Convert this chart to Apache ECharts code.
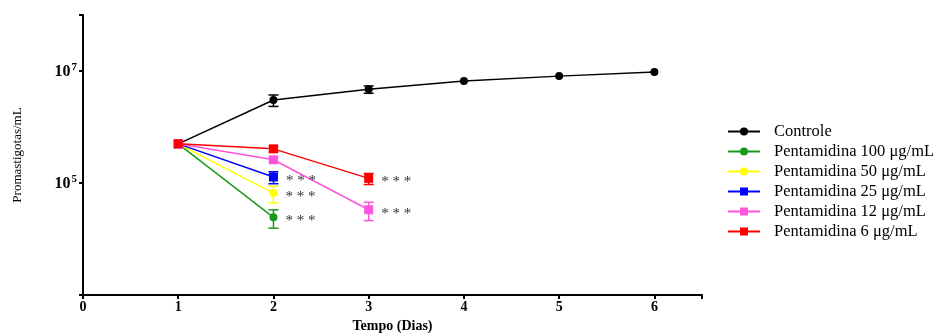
<!DOCTYPE html>
<html><head><meta charset="utf-8">
<script src="https://cdn.jsdelivr.net/npm/echarts@6/dist/echarts.min.js"></script>
<style>html,body{margin:0;padding:0;background:#fff}#c{width:945px;height:333px}</style>
</head><body><div id="c"></div>
<script>
const days = [1, 2, 3, 4, 5, 6];
const seriesNames = ['Controle','Pentamidina 100 μg/mL','Pentamidina 50 μg/mL','Pentamidina 25 μg/mL','Pentamidina 12 μg/mL','Pentamidina 6 μg/mL'];
const controle = [5.0e5, 3.03e6, 4.7e6, 6.6e6, 8.1e6, 9.6e6];
const controleSD = [0, 0.7e6, 0.7e6, 0, 0, 0];
const p100 = [5.0e5, 2.44e4];
const p100SD = [0, 0.88e4];
const p50 = [5.0e5, 6.6e4];
const p50SD = [0, 2.2e4];
const p25 = [5.0e5, 1.28e5];
const p25SD = [0, 0.31e5];
const p12 = [5.0e5, 2.6e5, 3.33e4];
const p12SD = [0, 0.2e5, 1.2e4];
const p6 = [5.0e5, 4.07e5, 1.21e5];
const p6SD = [0, 0.5e5, 0.27e5];
const yTickExponents = [5, 7];
const sigMark = '* * *';

const colors = ['#000000','#1a9a1a','#ffff00','#0000ff','#ff55dd','#ff0000'];
const symbols = ['circle','circle','circle','rect','rect','rect'];
const vals = [controle,p100,p50,p25,p12,p6];
const sds = [controleSD,p100SD,p50SD,p25SD,p12SD,p6SD];
const sig = [false,true,true,true,true,true];
const serif = '"Liberation Serif","DejaVu Serif",serif';

const series = [];
vals.forEach((v,i)=>{
  series.push({
    type:'custom', name: seriesNames[i] + ' (SD)', silent:true, z:3,
    data: v.map((y,k)=>[days[k], y - sds[i][k], y + sds[i][k]]).filter((d,k)=>sds[i][k]>0),
    renderItem:(params, api)=>{
      const x = api.value(0);
      const lo = api.coord([x, api.value(1)]);
      const hi = api.coord([x, api.value(2)]);
      const w = 5;
      const st = {stroke: colors[i], lineWidth: 1.5};
      return {type:'group', children:[
        {type:'line', shape:{x1:lo[0],y1:lo[1],x2:hi[0],y2:hi[1]}, style:st},
        {type:'line', shape:{x1:lo[0]-w,y1:lo[1],x2:lo[0]+w,y2:lo[1]}, style:st},
        {type:'line', shape:{x1:hi[0]-w,y1:hi[1],x2:hi[0]+w,y2:hi[1]}, style:st}
      ]};
    }
  });
});
vals.forEach((v,i)=>{
  series.push({
    type:'line', name: seriesNames[i], z:4,
    data: v.map((y,k)=>{
      const d = {value:[days[k], y]};
      if (sig[i] && k === v.length-1) {
        d.label = {show:true, position:'right', distance:8, formatter: sigMark, color:'#333', fontSize:15, fontFamily:serif, offset:[0,4]};
      }
      return d;
    }),
    symbol: symbols[i], symbolSize: symbols[i]==='rect' ? 9 : 8,
    itemStyle:{color: colors[i]},
    lineStyle:{color: colors[i], width:1.5},
    animation:false
  });
});

const chart = echarts.init(document.getElementById('c'), null, {renderer:'canvas'});
chart.setOption({
  animation:false,
  backgroundColor:'#fff',
  grid:{left:83, right:243, top:15, bottom:38, containLabel:false, outerBoundsMode:'none'},
  legend:{
    orient:'vertical', left:722, top:118, itemWidth:32, itemHeight:10, itemGap:3,
    data: seriesNames,
    textStyle:{fontFamily:serif, fontSize:16.5, color:'#000', padding:[0,0,0,9]}
  },
  xAxis:{
    type:'value', min:0, max:6.5, interval:1,
    name:'Tempo (Dias)', nameLocation:'middle', nameGap:24,
    nameTextStyle:{fontFamily:serif, fontSize:14, fontWeight:'bold', color:'#000'},
    axisLine:{lineStyle:{color:'#000', width:2}},
    axisTick:{show:true, length:4, lineStyle:{color:'#000', width:2}},
    axisLabel:{fontFamily:serif, fontSize:14, fontWeight:'bold', color:'#000', margin:5,
      formatter:(v)=> Number.isInteger(v) ? String(v) : ''},
    splitLine:{show:false}
  },
  yAxis:{
    type:'log', logBase:10, min:1e3, max:1e8, interval:2,
    name:'Promastigotas/mL', nameLocation:'middle', nameGap:59, nameRotate:90,
    nameTextStyle:{fontFamily:serif, fontSize:13, color:'#000'},
    axisLine:{lineStyle:{color:'#000', width:2}},
    axisTick:{show:true, length:4, lineStyle:{color:'#000', width:2}},
    axisLabel:{color:'#000', margin:6,
      formatter:(v)=>{ const e = Math.round(Math.log10(v)); return yTickExponents.includes(e) ? '{b|10}{s|' + e + '}' : ''; },
      rich:{
        b:{fontFamily:serif, fontSize:16, fontWeight:'bold', color:'#000', verticalAlign:'bottom', lineHeight:18},
        s:{fontFamily:serif, fontSize:11, fontWeight:'bold', color:'#000', verticalAlign:'top', lineHeight:18, padding:[0,0,0,1]}
      }},
    splitLine:{show:false}
  },
  series: series
});
</script></body></html>
